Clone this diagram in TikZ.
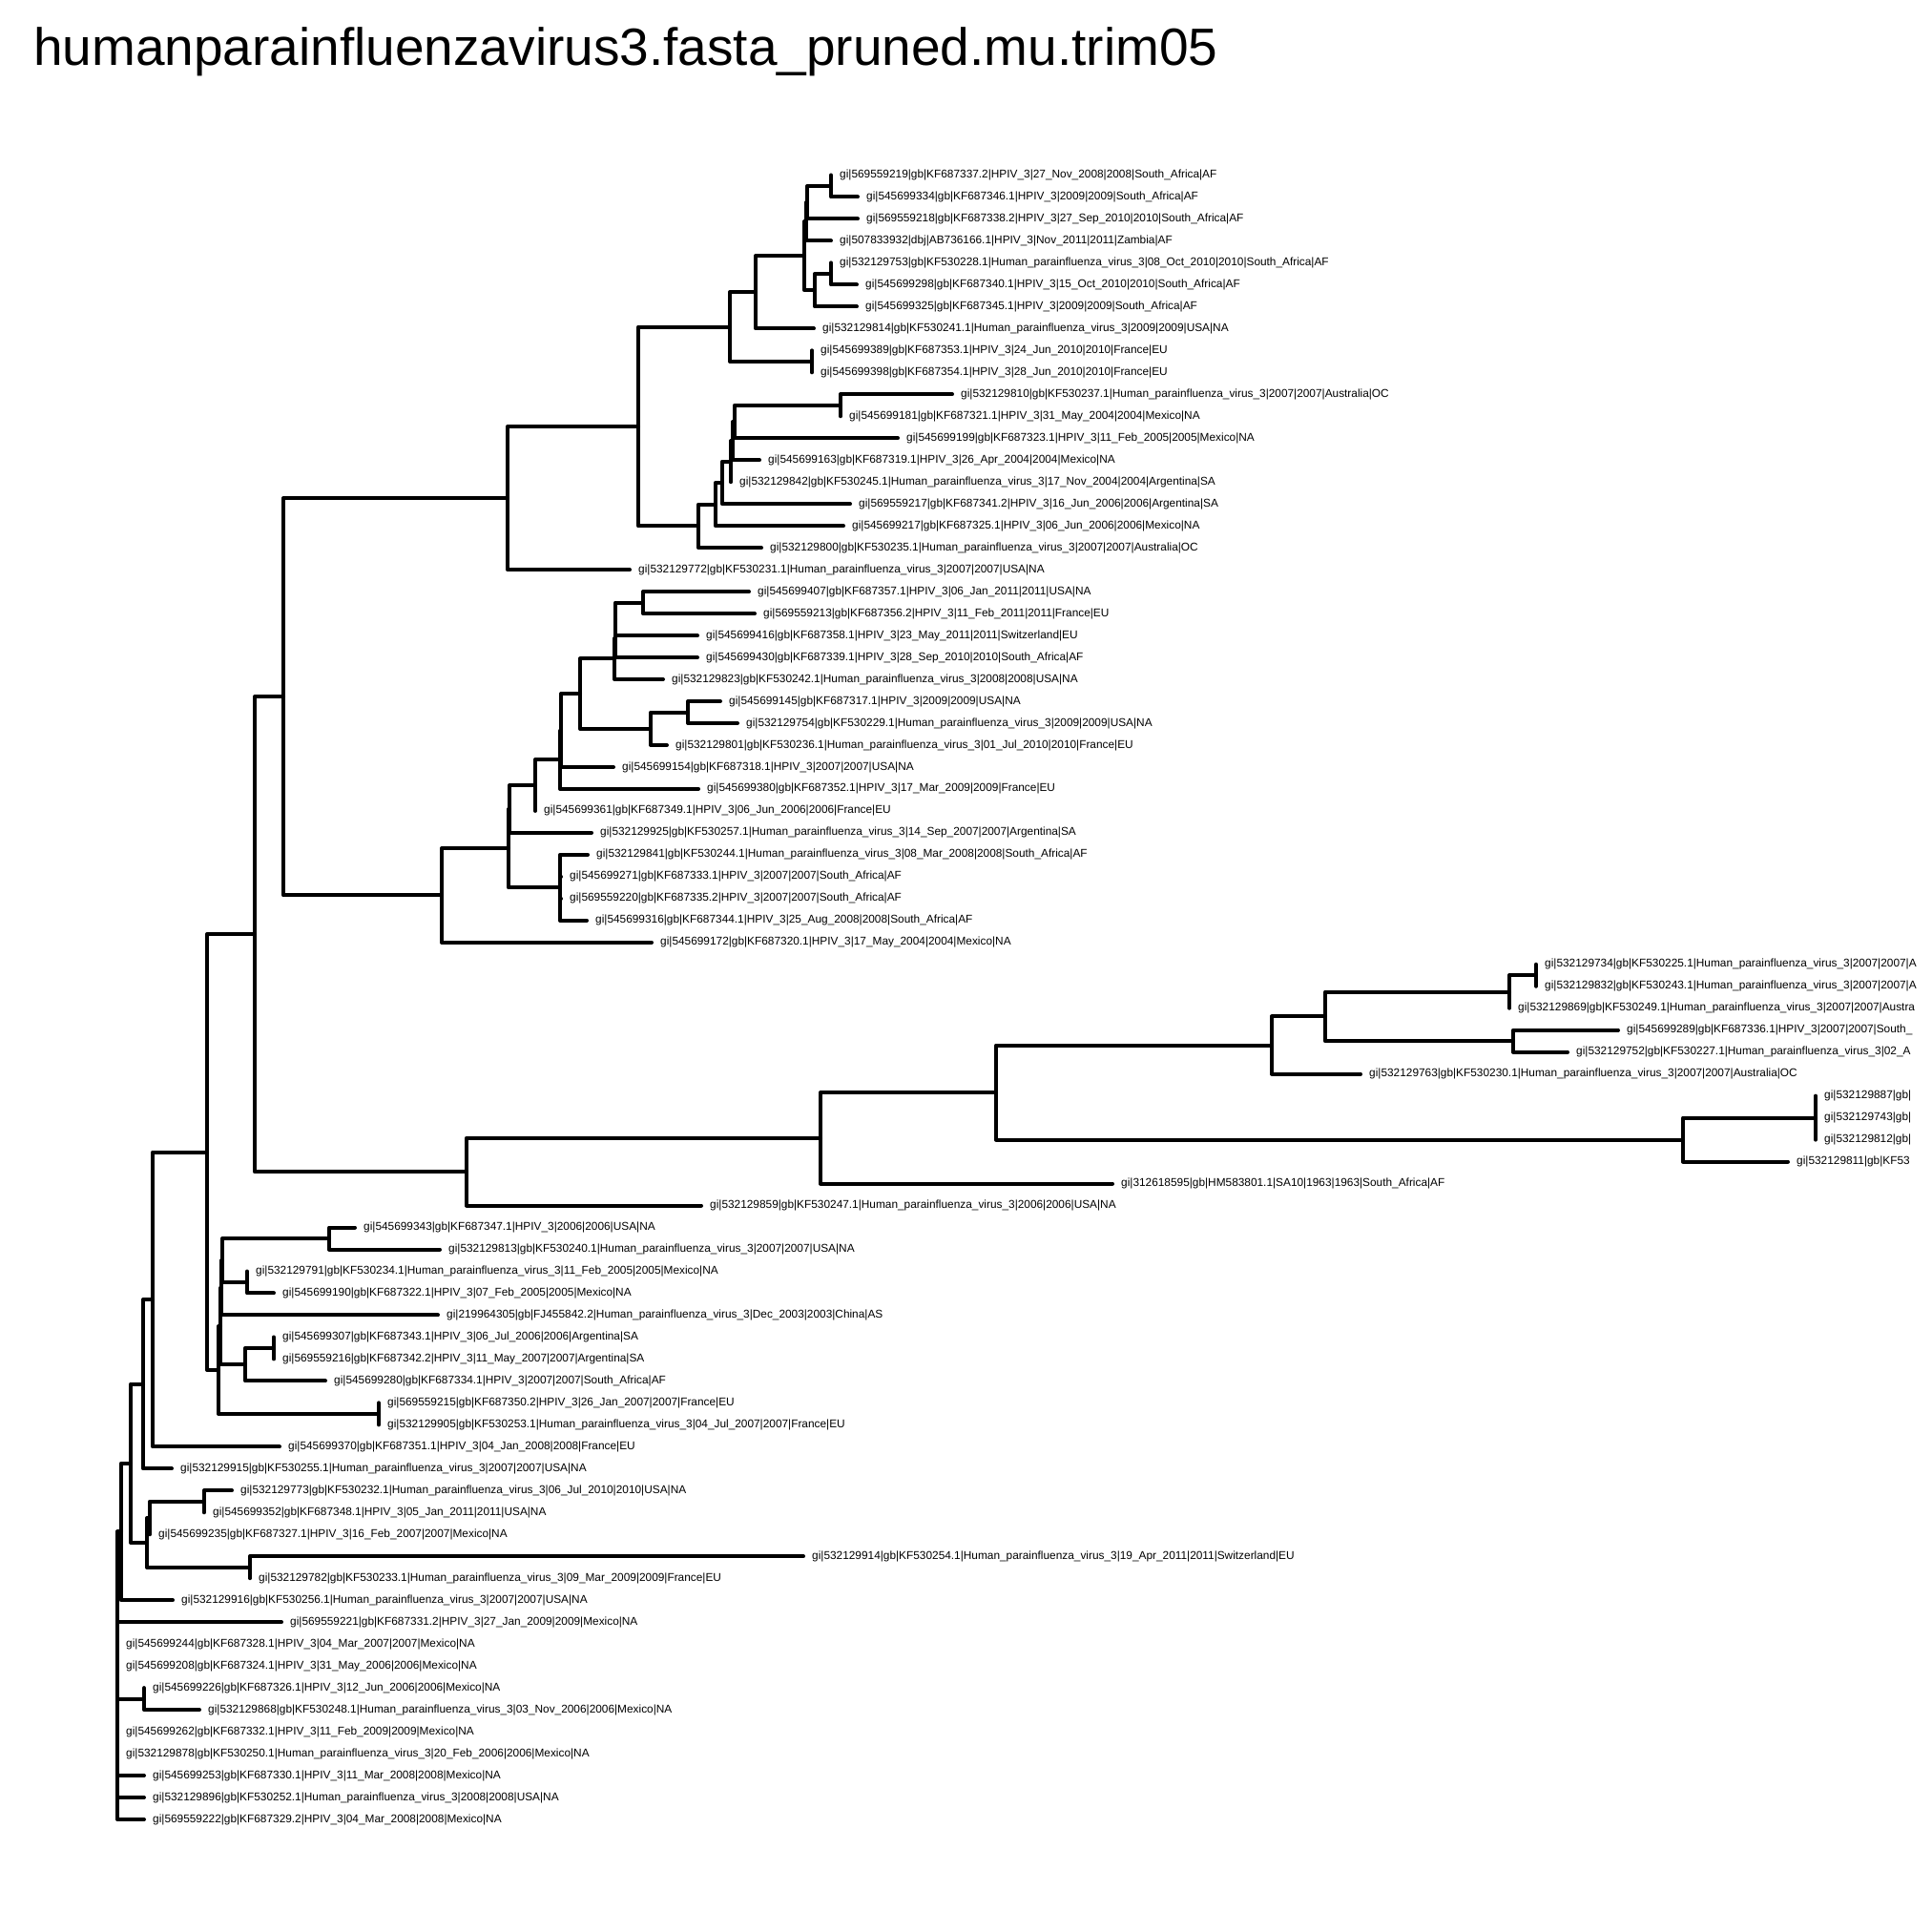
\documentclass[tikz,border=0pt]{standalone}
\usepackage{fontspec}
\setmainfont{Liberation Sans}
\newcommand\tipleaf[4]{\coordinate (#1) at (#2,#3); \node[lab] (#1t) at (#1) {#4};}
\begin{document}
\begin{tikzpicture}[x=1pt, y=-22.98pt, yshift=-2.5pt,
  br/.style={line width=4pt, line cap=round, line join=round},
  lab/.style={anchor=west, inner sep=0pt, xshift=9pt, font=\fontsize{11.86}{12}\selectfont},
  ttl/.style={anchor=base west, inner sep=0pt, font=\fontsize{55}{60}\selectfont}]
\fill[white] (0,-7.985) rectangle (2025,80.135);
\useasboundingbox (0,-7.985) rectangle (2025,80.135);
\clip (0,-7.985) rectangle (2025,80.135);

\node[ttl] (title) at (35,-5.0) {humanparainfluenzavirus3.fasta\_pruned.mu.trim05};

% tips: name, x, row, label
\tipleaf{L0}{871}{0}{gi|569559219|gb|KF687337.2|HPIV\_3|27\_Nov\_2008|2008|South\_Africa|AF}
\tipleaf{L1}{899}{1}{gi|545699334|gb|KF687346.1|HPIV\_3|2009|2009|South\_Africa|AF}
\tipleaf{L2}{899}{2}{gi|569559218|gb|KF687338.2|HPIV\_3|27\_Sep\_2010|2010|South\_Africa|AF}
\tipleaf{L3}{871}{3}{gi|507833932|dbj|AB736166.1|HPIV\_3|Nov\_2011|2011|Zambia|AF}
\tipleaf{L4}{871}{4}{gi|532129753|gb|KF530228.1|Human\_parainfluenza\_virus\_3|08\_Oct\_2010|2010|South\_Africa|AF}
\tipleaf{L5}{898}{5}{gi|545699298|gb|KF687340.1|HPIV\_3|15\_Oct\_2010|2010|South\_Africa|AF}
\tipleaf{L6}{898}{6}{gi|545699325|gb|KF687345.1|HPIV\_3|2009|2009|South\_Africa|AF}
\tipleaf{L7}{853}{7}{gi|532129814|gb|KF530241.1|Human\_parainfluenza\_virus\_3|2009|2009|USA|NA}
\tipleaf{L8}{851}{8}{gi|545699389|gb|KF687353.1|HPIV\_3|24\_Jun\_2010|2010|France|EU}
\tipleaf{L9}{851}{9}{gi|545699398|gb|KF687354.1|HPIV\_3|28\_Jun\_2010|2010|France|EU}
\tipleaf{L10}{998}{10}{gi|532129810|gb|KF530237.1|Human\_parainfluenza\_virus\_3|2007|2007|Australia|OC}
\tipleaf{L11}{881}{11}{gi|545699181|gb|KF687321.1|HPIV\_3|31\_May\_2004|2004|Mexico|NA}
\tipleaf{L12}{941}{12}{gi|545699199|gb|KF687323.1|HPIV\_3|11\_Feb\_2005|2005|Mexico|NA}
\tipleaf{L13}{796}{13}{gi|545699163|gb|KF687319.1|HPIV\_3|26\_Apr\_2004|2004|Mexico|NA}
\tipleaf{L14}{766}{14}{gi|532129842|gb|KF530245.1|Human\_parainfluenza\_virus\_3|17\_Nov\_2004|2004|Argentina|SA}
\tipleaf{L15}{891}{15}{gi|569559217|gb|KF687341.2|HPIV\_3|16\_Jun\_2006|2006|Argentina|SA}
\tipleaf{L16}{884}{16}{gi|545699217|gb|KF687325.1|HPIV\_3|06\_Jun\_2006|2006|Mexico|NA}
\tipleaf{L17}{798}{17}{gi|532129800|gb|KF530235.1|Human\_parainfluenza\_virus\_3|2007|2007|Australia|OC}
\tipleaf{L18}{660}{18}{gi|532129772|gb|KF530231.1|Human\_parainfluenza\_virus\_3|2007|2007|USA|NA}
\tipleaf{L19}{785}{19}{gi|545699407|gb|KF687357.1|HPIV\_3|06\_Jan\_2011|2011|USA|NA}
\tipleaf{L20}{791}{20}{gi|569559213|gb|KF687356.2|HPIV\_3|11\_Feb\_2011|2011|France|EU}
\tipleaf{L21}{731}{21}{gi|545699416|gb|KF687358.1|HPIV\_3|23\_May\_2011|2011|Switzerland|EU}
\tipleaf{L22}{731}{22}{gi|545699430|gb|KF687339.1|HPIV\_3|28\_Sep\_2010|2010|South\_Africa|AF}
\tipleaf{L23}{695}{23}{gi|532129823|gb|KF530242.1|Human\_parainfluenza\_virus\_3|2008|2008|USA|NA}
\tipleaf{L24}{755}{24}{gi|545699145|gb|KF687317.1|HPIV\_3|2009|2009|USA|NA}
\tipleaf{L25}{773}{25}{gi|532129754|gb|KF530229.1|Human\_parainfluenza\_virus\_3|2009|2009|USA|NA}
\tipleaf{L26}{699}{26}{gi|532129801|gb|KF530236.1|Human\_parainfluenza\_virus\_3|01\_Jul\_2010|2010|France|EU}
\tipleaf{L27}{643}{27}{gi|545699154|gb|KF687318.1|HPIV\_3|2007|2007|USA|NA}
\tipleaf{L28}{732}{28}{gi|545699380|gb|KF687352.1|HPIV\_3|17\_Mar\_2009|2009|France|EU}
\tipleaf{L29}{561}{29}{gi|545699361|gb|KF687349.1|HPIV\_3|06\_Jun\_2006|2006|France|EU}
\tipleaf{L30}{620}{30}{gi|532129925|gb|KF530257.1|Human\_parainfluenza\_virus\_3|14\_Sep\_2007|2007|Argentina|SA}
\tipleaf{L31}{616}{31}{gi|532129841|gb|KF530244.1|Human\_parainfluenza\_virus\_3|08\_Mar\_2008|2008|South\_Africa|AF}
\tipleaf{L32}{588}{32}{gi|545699271|gb|KF687333.1|HPIV\_3|2007|2007|South\_Africa|AF}
\tipleaf{L33}{588}{33}{gi|569559220|gb|KF687335.2|HPIV\_3|2007|2007|South\_Africa|AF}
\tipleaf{L34}{615}{34}{gi|545699316|gb|KF687344.1|HPIV\_3|25\_Aug\_2008|2008|South\_Africa|AF}
\tipleaf{L35}{683}{35}{gi|545699172|gb|KF687320.1|HPIV\_3|17\_May\_2004|2004|Mexico|NA}
\tipleaf{L36}{1610}{36}{gi|532129734|gb|KF530225.1|Human\_parainfluenza\_virus\_3|2007|2007|A}
\tipleaf{L37}{1610}{37}{gi|532129832|gb|KF530243.1|Human\_parainfluenza\_virus\_3|2007|2007|A}
\tipleaf{L38}{1582}{38}{gi|532129869|gb|KF530249.1|Human\_parainfluenza\_virus\_3|2007|2007|Austra}
\tipleaf{L39}{1696}{39}{gi|545699289|gb|KF687336.1|HPIV\_3|2007|2007|South\_}
\tipleaf{L40}{1643}{40}{gi|532129752|gb|KF530227.1|Human\_parainfluenza\_virus\_3|02\_A}
\tipleaf{L41}{1426}{41}{gi|532129763|gb|KF530230.1|Human\_parainfluenza\_virus\_3|2007|2007|Australia|OC}
\tipleaf{L42}{1903}{42}{gi|532129887|gb|}
\tipleaf{L43}{1903}{43}{gi|532129743|gb|}
\tipleaf{L44}{1903}{44}{gi|532129812|gb|}
\tipleaf{L45}{1874}{45}{gi|532129811|gb|KF53}
\tipleaf{L46}{1166}{46}{gi|312618595|gb|HM583801.1|SA10|1963|1963|South\_Africa|AF}
\tipleaf{L47}{735}{47}{gi|532129859|gb|KF530247.1|Human\_parainfluenza\_virus\_3|2006|2006|USA|NA}
\tipleaf{L48}{372}{48}{gi|545699343|gb|KF687347.1|HPIV\_3|2006|2006|USA|NA}
\tipleaf{L49}{461}{49}{gi|532129813|gb|KF530240.1|Human\_parainfluenza\_virus\_3|2007|2007|USA|NA}
\tipleaf{L50}{259}{50}{gi|532129791|gb|KF530234.1|Human\_parainfluenza\_virus\_3|11\_Feb\_2005|2005|Mexico|NA}
\tipleaf{L51}{287}{51}{gi|545699190|gb|KF687322.1|HPIV\_3|07\_Feb\_2005|2005|Mexico|NA}
\tipleaf{L52}{459}{52}{gi|219964305|gb|FJ455842.2|Human\_parainfluenza\_virus\_3|Dec\_2003|2003|China|AS}
\tipleaf{L53}{287}{53}{gi|545699307|gb|KF687343.1|HPIV\_3|06\_Jul\_2006|2006|Argentina|SA}
\tipleaf{L54}{287}{54}{gi|569559216|gb|KF687342.2|HPIV\_3|11\_May\_2007|2007|Argentina|SA}
\tipleaf{L55}{341}{55}{gi|545699280|gb|KF687334.1|HPIV\_3|2007|2007|South\_Africa|AF}
\tipleaf{L56}{397}{56}{gi|569559215|gb|KF687350.2|HPIV\_3|26\_Jan\_2007|2007|France|EU}
\tipleaf{L57}{397}{57}{gi|532129905|gb|KF530253.1|Human\_parainfluenza\_virus\_3|04\_Jul\_2007|2007|France|EU}
\tipleaf{L58}{293}{58}{gi|545699370|gb|KF687351.1|HPIV\_3|04\_Jan\_2008|2008|France|EU}
\tipleaf{L59}{180}{59}{gi|532129915|gb|KF530255.1|Human\_parainfluenza\_virus\_3|2007|2007|USA|NA}
\tipleaf{L60}{243}{60}{gi|532129773|gb|KF530232.1|Human\_parainfluenza\_virus\_3|06\_Jul\_2010|2010|USA|NA}
\tipleaf{L61}{214}{61}{gi|545699352|gb|KF687348.1|HPIV\_3|05\_Jan\_2011|2011|USA|NA}
\tipleaf{L62}{157}{62}{gi|545699235|gb|KF687327.1|HPIV\_3|16\_Feb\_2007|2007|Mexico|NA}
\tipleaf{L63}{842}{63}{gi|532129914|gb|KF530254.1|Human\_parainfluenza\_virus\_3|19\_Apr\_2011|2011|Switzerland|EU}
\tipleaf{L64}{262}{64}{gi|532129782|gb|KF530233.1|Human\_parainfluenza\_virus\_3|09\_Mar\_2009|2009|France|EU}
\tipleaf{L65}{181}{65}{gi|532129916|gb|KF530256.1|Human\_parainfluenza\_virus\_3|2007|2007|USA|NA}
\tipleaf{L66}{295}{66}{gi|569559221|gb|KF687331.2|HPIV\_3|27\_Jan\_2009|2009|Mexico|NA}
\tipleaf{L67}{123}{67}{gi|545699244|gb|KF687328.1|HPIV\_3|04\_Mar\_2007|2007|Mexico|NA}
\tipleaf{L68}{123}{68}{gi|545699208|gb|KF687324.1|HPIV\_3|31\_May\_2006|2006|Mexico|NA}
\tipleaf{L69}{151}{69}{gi|545699226|gb|KF687326.1|HPIV\_3|12\_Jun\_2006|2006|Mexico|NA}
\tipleaf{L70}{209}{70}{gi|532129868|gb|KF530248.1|Human\_parainfluenza\_virus\_3|03\_Nov\_2006|2006|Mexico|NA}
\tipleaf{L71}{123}{71}{gi|545699262|gb|KF687332.1|HPIV\_3|11\_Feb\_2009|2009|Mexico|NA}
\tipleaf{L72}{123}{72}{gi|532129878|gb|KF530250.1|Human\_parainfluenza\_virus\_3|20\_Feb\_2006|2006|Mexico|NA}
\tipleaf{L73}{151}{73}{gi|545699253|gb|KF687330.1|HPIV\_3|11\_Mar\_2008|2008|Mexico|NA}
\tipleaf{L74}{151}{74}{gi|532129896|gb|KF530252.1|Human\_parainfluenza\_virus\_3|2008|2008|USA|NA}
\tipleaf{L75}{151}{75}{gi|569559222|gb|KF687329.2|HPIV\_3|04\_Mar\_2008|2008|Mexico|NA}

% internal nodes (x, mean row of children)
\coordinate (P01) at (871,0.5);
\coordinate (T7) at (846,1.25);
\coordinate (T6) at (845,2.125);
\coordinate (P45) at (871,4.5);
\coordinate (Q) at (854,5.25);
\coordinate (T5) at (843,3.6875);
\coordinate (T4) at (792,5.34375);
\coordinate (P89) at (851,8.5);
\coordinate (T2) at (765,6.921875);
\coordinate (T11) at (881,10.5);
\coordinate (T10b) at (770,11.25);
\coordinate (T10a) at (768,12.125);
\coordinate (T10) at (766,13.0625);
\coordinate (T9) at (757,14.03125);
\coordinate (T8) at (750,15.015625);
\coordinate (T3) at (732,16.0078);
\coordinate (T1) at (669,11.4648);
\coordinate (T0) at (532,14.7324);
\coordinate (S9) at (674,19.5);
\coordinate (S7c) at (645,20.25);
\coordinate (S7b) at (644.5,21.125);
\coordinate (S7) at (644,22.0625);
\coordinate (S10) at (721,24.5);
\coordinate (S8) at (682,25.25);
\coordinate (S6) at (608,23.65625);
\coordinate (S5a) at (588,25.328);
\coordinate (S5) at (587,26.664);
\coordinate (S2) at (561,27.832);
\coordinate (S1a) at (534,28.916);
\coordinate (S4) at (587,32.5);
\coordinate (S1) at (533,30.708);
\coordinate (S0) at (463,32.854);
\coordinate (N1) at (297,23.793);
\coordinate (U8) at (1610,36.5);
\coordinate (U6) at (1582,37.25);
\coordinate (U7) at (1586,39.5);
\coordinate (U5) at (1389,38.375);
\coordinate (U3) at (1333,39.6875);
\coordinate (U9) at (1903,43);
\coordinate (U4) at (1764,44);
\coordinate (U2) at (1044,41.84375);
\coordinate (U1) at (860,43.921875);
\coordinate (U0) at (489,45.4609);
\coordinate (N2) at (267,34.627);
\coordinate (V1) at (345,48.5);
\coordinate (V2) at (259,50.5);
\coordinate (Vz) at (233,49.5);
\coordinate (Vy) at (232,50.75);
\coordinate (V5) at (287,53.5);
\coordinate (V3) at (257,54.25);
\coordinate (Vx) at (231,52.5);
\coordinate (V4) at (397,56.5);
\coordinate (V0) at (229,54.5);
\coordinate (N3) at (217,44.5635);
\coordinate (N4) at (160,51.2818);
\coordinate (N5) at (150,55.1409);
\coordinate (R1) at (214,60.5);
\coordinate (Ra) at (157,61.25);
\coordinate (R2) at (262,63.5);
\coordinate (Rb) at (154,62.375);
\coordinate (N6) at (137,58.758);
\coordinate (Z1) at (127,61.879);
\coordinate (Y) at (151,69.5);
\coordinate (Rt) at (123,68.44);

% branches, parent to child, drawn as elbows
\foreach \p/\c in {P01/L0, P01/L1, T7/P01, T7/L2, T6/T7, T6/L3, P45/L4, P45/L5,
  Q/P45, Q/L6, T5/T6, T5/Q, T4/T5, T4/L7, P89/L8, P89/L9, T2/T4, T2/P89,
  T11/L10, T11/L11, T10b/T11, T10b/L12, T10a/T10b, T10a/L13, T10/T10a, T10/L14,
  T9/T10, T9/L15, T8/T9, T8/L16, T3/T8, T3/L17, T1/T2, T1/T3, T0/T1, T0/L18,
  S9/L19, S9/L20, S7c/S9, S7c/L21, S7b/S7c, S7b/L22, S7/S7b, S7/L23,
  S10/L24, S10/L25, S8/S10, S8/L26, S6/S7, S6/S8, S5a/S6, S5a/L27, S5/S5a, S5/L28,
  S2/S5, S2/L29, S1a/S2, S1a/L30, S4/L31, S4/L32, S4/L33, S4/L34, S1/S1a, S1/S4,
  S0/S1, S0/L35, N1/T0, N1/S0,
  U8/L36, U8/L37, U6/U8, U6/L38, U7/L39, U7/L40, U5/U6, U5/U7, U3/U5, U3/L41,
  U9/L42, U9/L43, U9/L44, U4/U9, U4/L45, U2/U3, U2/U4, U1/U2, U1/L46, U0/U1, U0/L47,
  N2/N1, N2/U0,
  V1/L48, V1/L49, V2/L50, V2/L51, Vz/V1, Vz/V2, Vy/Vz, Vy/L52, V5/L53, V5/L54,
  V3/V5, V3/L55, Vx/Vy, Vx/V3, V4/L56, V4/L57, V0/Vx, V0/V4,
  N3/N2, N3/V0, N4/N3, N4/L58, N5/N4, N5/L59,
  R1/L60, R1/L61, Ra/R1, Ra/L62, R2/L63, R2/L64, Rb/Ra, Rb/R2, N6/N5, N6/Rb,
  Z1/N6, Z1/L65, Y/L69, Y/L70,
  Rt/Z1, Rt/L66, Rt/L67, Rt/L68, Rt/Y, Rt/L71, Rt/L72, Rt/L73, Rt/L74, Rt/L75}
  \draw[br] (\p) |- (\c);
\end{tikzpicture}
\end{document}
